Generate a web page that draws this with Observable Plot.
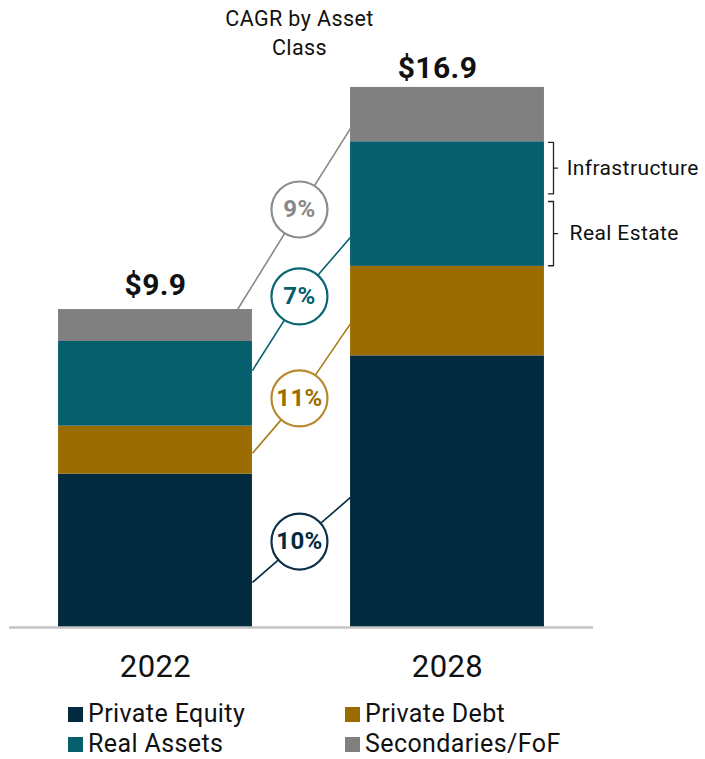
<!DOCTYPE html>
<html><head><meta charset="utf-8">
<script src="https://cdn.jsdelivr.net/npm/d3@7"></script>
<script src="https://cdn.jsdelivr.net/npm/@observablehq/plot@0.6"></script>
<style>
html,body{margin:0;background:#fff;font-family:Roboto, sans-serif;overflow:hidden;}
#legend{display:grid;grid-template-columns:277px 277px;padding-left:68px;margin-top:9px;}
.item{display:flex;align-items:center;height:30px;line-height:30px;font-size:25px;letter-spacing:0.4px;color:#111;}
.sw{width:15px;height:15px;margin-right:5px;flex:none;}
</style></head><body>
<div id="chart"></div><div id="legend"></div>
<script>
// ---- data ----
const years = ["2022", "2028"];
const categories = ["Private Equity", "Private Debt", "Real Assets", "Secondaries/FoF"];
const colors = ["#022b40", "#9b6d00", "#055f6d", "#808080"];
const values2022 = [4.8, 1.5, 2.65, 1.0];
const values2028 = [8.5, 2.8, 3.9, 1.7];
const totalLabels = ["$9.9", "$16.9"];
const cagrLabels = ["10%", "11%", "7%", "9%"];
const subSegments = ["Real Estate", "Infrastructure"];
const subValues = [2.15, 1.75];
const titleText = "CAGR by Asset\nClass";

// ---- annotation anchors (y in data units) ----
const cagrStartY = [1.41, 5.45, 8.04, 9.98];
const cagrMidY = [2.69, 7.17, 10.36, 13.08];
const cagrEndY = [4.07, 9.51, 12.21, 15.62];
const ringStroke = ["#0d3047", "#b8892e", "#0b6673", "#8c8c8c"];
const ringText = ["#022b40", "#9b6d00", "#055f6d", "#888888"];
const lineStroke = ["#022b40", "#a77b12", "#055f6d", "#8a8a8a"];

const HW = 0.332;          // half bar width in x units
const series = [values2022, values2028];
const rects = [];
series.forEach((vals, i) => {
  let acc = 0;
  vals.forEach((v, j) => {
    rects.push({x1: i - HW, x2: i + HW, y1: acc, y2: acc + v, cat: categories[j]});
    acc += v;
  });
});
const totals = series.map(v => d3.sum(v));
const totalRows = totalLabels.map((t, i) => ({x: i, y: totals[i], t}));

const links = [];
cagrLabels.forEach((lab, k) => {
  const sx = k === 3 ? 0.281 : HW;
  const sy = k === 3 ? totals[0] : cagrStartY[k];
  links.push({x1: sx, y1: sy, x2: 0.493, y2: cagrMidY[k], k});
  links.push({x1: 0.493, y1: cagrMidY[k], x2: 1 - HW, y2: cagrEndY[k], k});
});
const rings = cagrLabels.map((lab, k) => ({x: 0.493, y: cagrMidY[k], lab, k}));

// brackets on 2028 real assets
const raBase = values2028[0] + values2028[1];
const gap = 0.12;
const brackets = [];
const bracketLabels = [];
let b0 = raBase;
subValues.forEach((v, j) => {
  const lo = b0 + (j === 0 ? 0.02 : gap);
  const hi = b0 + v - (j === 0 ? gap : 0.02);
  const mid = (lo + hi) / 2;
  const vx = 1.363, hx = 1.346, tx = 1.377;
  [[hx, hi], [vx, hi], [vx, mid], [tx, mid], [vx, mid], [vx, lo], [hx, lo]]
    .forEach(([x, y]) => brackets.push({x, y, s: subSegments[j]}));
  bracketLabels.push({x: j === 0 ? 1.418 : 1.408, y: mid, s: subSegments[j]});
  b0 += v;
});

const yMax = 19.62;
const totalStyle = {x: "x", y: "y", text: "t", lineAnchor: "bottom", dy: -12, fontSize: 30, fontWeight: 700, fill: "#111"};
const chart = Plot.plot({
  width: 705, height: 690,
  marginLeft: 0, marginRight: 0, marginTop: 0, marginBottom: 63,
  x: {domain: [-155 / 292, 550 / 292], axis: null},
  y: {domain: [0, yMax], axis: null},
  color: {domain: categories, range: colors},
  style: {fontFamily: "Roboto, sans-serif", background: "#fff"},
  marks: [
    Plot.rect(rects, {x1: "x1", x2: "x2", y1: "y1", y2: "y2", fill: "cat"}),
    Plot.ruleY([0], {x1: -0.5, x2: 1.5, stroke: "#c4c4c4", strokeWidth: 2.5}),
    Plot.link(links, {x1: "x1", y1: "y1", x2: "x2", y2: "y2", stroke: d => lineStroke[d.k], strokeWidth: 1.6}),
    Plot.dot(rings, {x: "x", y: "y", r: 28, fill: "#fff", stroke: d => ringStroke[d.k], strokeWidth: 2.2}),
    Plot.text(rings, {x: "x", y: "y", text: "lab", fill: d => ringText[d.k], fontSize: 24, fontWeight: 700}),
    Plot.text(totalRows.slice(0, 1), {...totalStyle, dy: -15}),
    Plot.text(totalRows.slice(1), {...totalStyle, dx: -10, dy: -9}),
    Plot.text(years, {x: (d, i) => i, y: 0, text: d => d, dy: 40, fontSize: 31, fill: "#111"}),
    Plot.text([titleText], {x: 0.493, y: yMax, text: d => d, lineAnchor: "top", dy: 5, fontSize: 21.5, lineHeight: 1.35, fill: "#111"}),
    Plot.line(brackets, {x: "x", y: "y", z: "s", stroke: "#222", strokeWidth: 1.3}),
    Plot.text(bracketLabels, {x: "x", y: "y", text: "s", textAnchor: "start", fontSize: 21, fill: "#111"})
  ]
});
chart.querySelectorAll("text").forEach(t => t.style.letterSpacing = "0.4px");
document.getElementById("chart").appendChild(chart);

const legend = document.getElementById("legend");
categories.forEach((c, i) => {
  const it = document.createElement("div");
  it.className = "item";
  const sw = document.createElement("span");
  sw.className = "sw";
  sw.style.background = colors[i];
  it.appendChild(sw);
  it.appendChild(document.createTextNode(c));
  legend.appendChild(it);
});
</script>
</body></html>
